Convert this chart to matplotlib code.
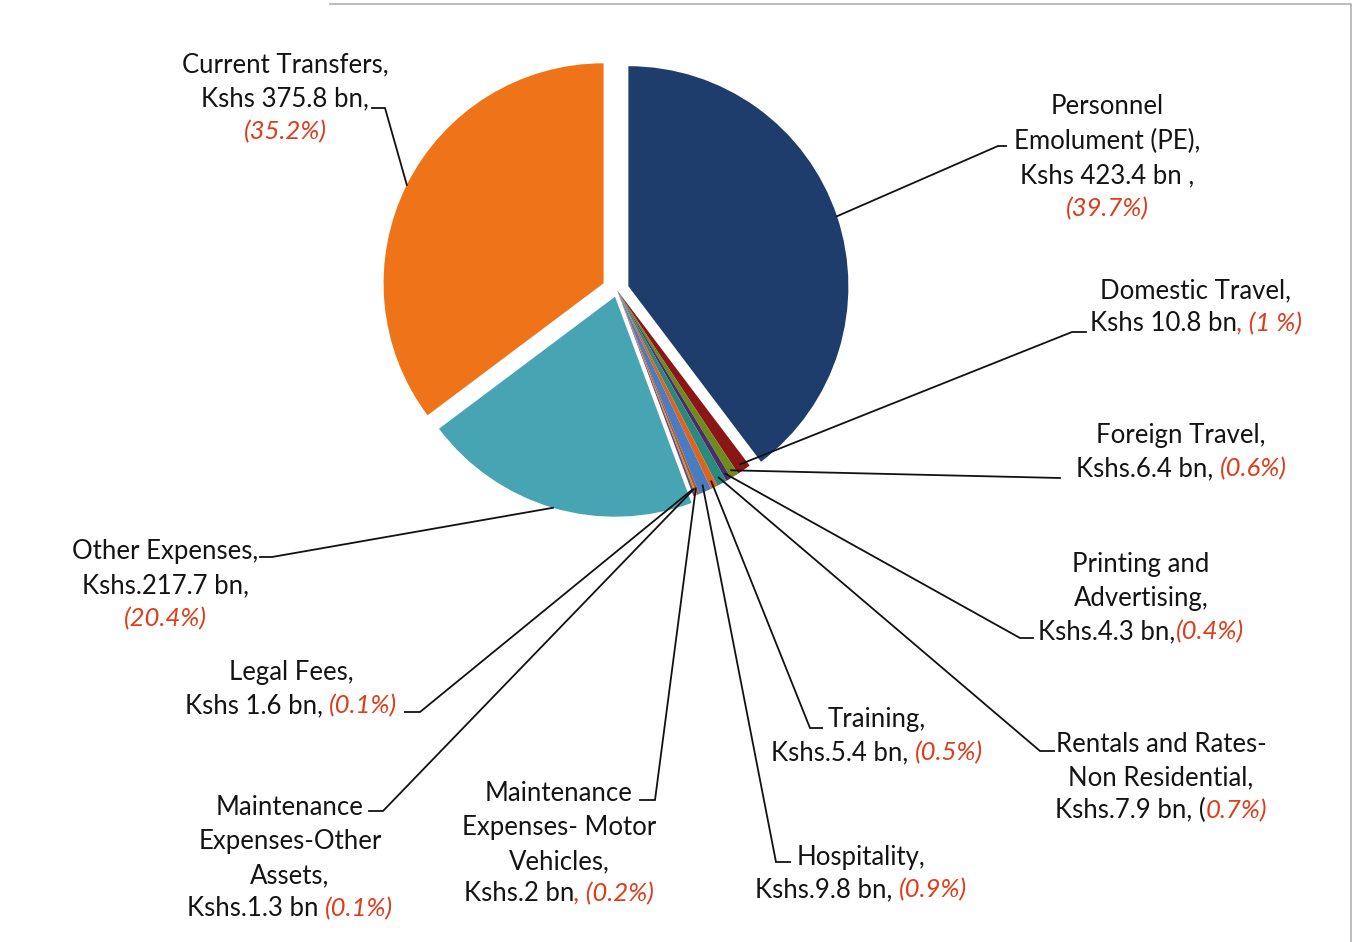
import matplotlib
matplotlib.use('Agg')
import numpy as np
import matplotlib.pyplot as plt

# expenditure by item, Kshs bn, clockwise from 12 o'clock
items = ['Personnel Emolument (PE)', 'Domestic Travel', 'Foreign Travel',
         'Printing and Advertising', 'Rentals and Rates-Non Residential',
         'Training', 'Hospitality', 'Maintenance Expenses- Motor Vehicles',
         'Maintenance Expenses-Other Assets', 'Legal Fees',
         'Other Expenses', 'Current Transfers']
values = [423.4, 10.8, 6.4, 4.3, 7.9, 5.4, 9.8, 2.0, 1.3, 1.6, 217.7, 375.8]
pct_text = ['(39.7%)', '(1 %)', '(0.6%)', '(0.4%)', '0.7%)', '(0.5%)', '(0.9%)',
            '(0.2%)', '(0.1%)', '(0.1%)', '(20.4%)', '(35.2%)']
colors = ['#1f3d6c', '#8c1616', '#6e8b1e', '#4d2a68', '#2a8a80', '#e0621c',
          '#4a7cc0', '#c0502a', '#a0a030', '#6a3e8a', '#47a5b3', '#ef7419']

W, H = 1354, 942
FS = 18.5
RED = '#e03c1a'
INK = '#141414'

fig = plt.figure(figsize=(W / 100, H / 100), dpi=100)
ax = fig.add_axes([0, 0, 1, 1])

cx, cy, R = 617, H - 290, 220
# explode offsets are in data units (pixels here)
explode = [12, 0, 0, 0, 0, 0, 0, 0, 0, 0, 7, 15]
wedges, _ = ax.pie(values, colors=colors, explode=explode, startangle=90,
                   counterclock=False, radius=R, center=(cx, cy),
                   wedgeprops=dict(linewidth=0))
ax.set_xlim(0, W)
ax.set_ylim(0, H)
ax.set_aspect('equal')
ax.axis('off')

renderer = fig.canvas.get_renderer()


def put_line(xc, y, segs):
    # segs: list of (text, colour, style), centred on xc, y is baseline (pixels from top)
    ts = []
    for s, c, st in segs:
        ts.append(ax.text(0, H - y, s, color=c, style=st, fontsize=FS,
                          family='Lato', va='baseline', ha='left'))
    widths = [t.get_window_extent(renderer).width for t in ts]
    x = xc - sum(widths) / 2
    for t, w in zip(ts, widths):
        t.set_x(x)
        x += w


def blk(s):
    return (s, INK, 'normal')


def red(s):
    return (s, RED, 'italic')


# label layout: (centre x, [(baseline y, segments)], elbow, end)
labels = [
    (1107, [(114, [blk('Personnel')]),
            (149, [blk('Emolument (PE),')]),
            (183, [blk('Kshs 423.4 bn ,')]),
            (216, [red(pct_text[0])])],
     (998, 146), (1006, 146)),
    (1196, [(298, [blk('Domestic Travel,')]),
            (331, [blk('Kshs 10.8 bn'), red(', ' + pct_text[1])])],
     (1072, 332), (1086, 332)),
    (1181, [(443, [blk('Foreign Travel,')]),
            (476, [blk('Kshs.6.4 bn, '), red(pct_text[2])])],
     (1060, 478), (1060, 478)),
    (1141, [(572, [blk('Printing and')]),
            (606, [blk('Advertising,')]),
            (639, [blk('Kshs.4.3 bn,'), red(pct_text[3])])],
     (1020, 638), (1033, 638)),
    (1161, [(752, [blk('Rentals and Rates-')]),
            (785, [blk('Non Residential,')]),
            (818, [blk('Kshs.7.9 bn, ('), red(pct_text[4])])],
     (1040, 751), (1054, 751)),
    (877, [(727, [blk('Training,')]),
           (760, [blk('Kshs.5.4 bn, '), red(pct_text[5])])],
     (810, 728), (822, 728)),
    (861, [(865, [blk('Hospitality,')]),
           (897, [blk('Kshs.9.8 bn, '), red(pct_text[6])])],
     (776, 862), (790, 862)),
    (559, [(801, [blk('Maintenance')]),
           (835, [blk('Expenses- Motor')]),
           (869, [blk('Vehicles,')]),
           (901, [blk('Kshs.2 bn'), red(', ' + pct_text[7])])],
     (655, 800), (640, 800)),
    (290, [(815, [blk('Maintenance')]),
           (849, [blk('Expenses-Other')]),
           (883, [blk('Assets,')]),
           (916, [blk('Kshs.1.3 bn '), red(pct_text[8])])],
     (383, 811), (369, 811)),
    (291, [(680, [blk('Legal Fees,')]),
           (713, [blk('Kshs 1.6 bn, '), red(pct_text[9])])],
     (420, 712), (405, 712)),
    (165, [(559, [blk('Other Expenses,')]),
           (593, [blk('Kshs.217.7 bn,')]),
           (626, [red(pct_text[10])])],
     (272, 557), (260, 557)),
    (285, [(72, [blk('Current Transfers,')]),
           (106, [blk('Kshs 375.8 bn,')]),
           (139, [red(pct_text[11])])],
     (385, 108), (372, 108)),
]

for w, (xc, lines, elbow, end) in zip(wedges, labels):
    for y, segs in lines:
        put_line(xc, y, segs)
    mid = np.deg2rad((w.theta1 + w.theta2) / 2)
    r0 = w.r * (1.0 if w.theta2 - w.theta1 > 20 else 0.97)
    x0 = w.center[0] + r0 * np.cos(mid)
    y0 = w.center[1] + r0 * np.sin(mid)
    ax.plot([x0, elbow[0], end[0]], [y0, H - elbow[1], H - end[1]],
            color='#111111', lw=1.3, solid_joinstyle='miter', zorder=5)

# thin page frame from the scan
ax.plot([330, 1351, 1351], [H - 4, H - 4, 0], color='#b0b0b0', lw=1.2)

fig.savefig('out.png', dpi=100, facecolor='white')
